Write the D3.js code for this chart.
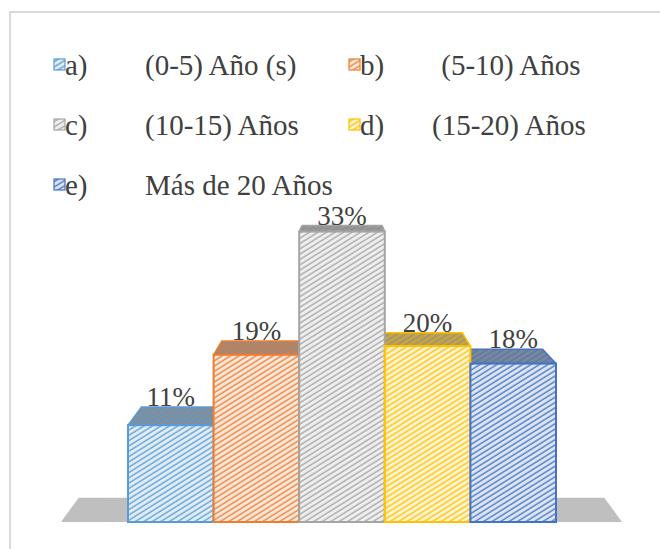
<!DOCTYPE html>
<html>
<head>
<meta charset="utf-8">
<script src="https://cdn.jsdelivr.net/npm/d3@7"></script>
</head>
<body style="margin:0">
<script>
/**
 * DATA
 * */
const letters = ["a)", "b)", "c)", "d)", "e)"];
const categories = ["(0-5) Año (s)", " (5-10) Años", "(10-15) Años", "(15-20) Años", "Más de 20 Años"];
const values = [11, 19, 33, 20, 18];
const colors = ["#5b9bd5", "#ed7d31", "#a5a5a5", "#ffc000", "#4472c4"];

/**
 * CONSTANTS
 * */
const width = 660,
  height = 549;
const floorY = 522;
const vp = [342, 136];   // vanishing point for the 3D look
const depth = 0.063;     // how far back the boxes go
const serif = "'Liberation Serif', 'Times New Roman', Tinos, FreeSerif, serif";

const svg = d3.select("body")
  .append("svg")
  .attr("width", width)
  .attr("height", height)
  .style("font-family", serif);

// chart frame
svg.append("rect")
  .attr("x", 10).attr("y", 12)
  .attr("width", 700).attr("height", 600)
  .attr("fill", "none")
  .attr("stroke", "#d9d9d9")
  .attr("stroke-width", 2);

// hatch patterns
const defs = svg.append("defs");
colors.forEach((c, i) => {
  const front = defs.append("pattern")
    .attr("id", "front" + i)
    .attr("patternUnits", "userSpaceOnUse")
    .attr("width", 4.5).attr("height", 4.5)
    .attr("patternTransform", "rotate(58)");
  front.append("rect").attr("width", 4.5).attr("height", 4.5)
    .attr("fill", d3.interpolateRgb(c, "#ffffff")(0.82));
  front.append("line").attr("x1", 1).attr("x2", 1).attr("y1", 0).attr("y2", 4.5)
    .attr("stroke", c).attr("stroke-width", 1.3);

  const top = defs.append("pattern")
    .attr("id", "top" + i)
    .attr("patternUnits", "userSpaceOnUse")
    .attr("width", 4.5).attr("height", 4.5)
    .attr("patternTransform", "rotate(58)");
  top.append("rect").attr("width", 4.5).attr("height", 4.5)
    .attr("fill", d3.interpolateRgb(c, "#8c8c8c")(0.75));
  top.append("line").attr("x1", 1).attr("x2", 1).attr("y1", 0).attr("y2", 4.5)
    .attr("stroke", d3.interpolateRgb(c, "#7f7f7f")(0.3)).attr("stroke-width", 1.3);
});

/**
 * SCALES
 * */
const x = d3.scaleBand()
  .domain(categories)
  .range([128, 556])
  .padding(0);

const y = d3.scaleLinear()
  .domain([0, 35])
  .range([floorY, floorY - 308]);

const back = p => [p[0] + depth * (vp[0] - p[0]), p[1] + depth * (vp[1] - p[1])];
const poly = pts => pts.map(p => p.join(",")).join(" ");

// floor
const floorL = 61, floorR = 622;
svg.append("polygon")
  .attr("points", poly([[floorL, floorY], [floorR, floorY], back([floorR, floorY]), back([floorL, floorY])]))
  .attr("fill", "#bfbfbf");

const data = categories.map((c, i) => ({ cat: c, value: values[i], i }));

// top faces first, then fronts on top
const tops = svg.append("g");
const fronts = svg.append("g");

data.forEach(d => {
  const x0 = x(d.cat), x1 = x0 + x.bandwidth(), yt = y(d.value);
  const fl = [x0, yt], fr = [x1, yt];
  tops.append("polygon")
    .attr("points", poly([fl, fr, back(fr), back(fl)]))
    .attr("fill", `url(#top${d.i})`)
    .attr("stroke", colors[d.i])
    .attr("stroke-width", 1.5)
    .attr("stroke-linejoin", "round");
});

fronts.selectAll("rect")
  .data(data)
  .join("rect")
  .attr("x", d => x(d.cat))
  .attr("y", d => y(d.value))
  .attr("width", x.bandwidth())
  .attr("height", d => floorY - y(d.value))
  .attr("fill", d => `url(#front${d.i})`)
  .attr("stroke", d => colors[d.i])
  .attr("stroke-width", 2);

// data labels
svg.append("g")
  .selectAll("text")
  .data(data)
  .join("text")
  .attr("x", d => x(d.cat) + x.bandwidth() / 2)
  .attr("y", d => back([x(d.cat), y(d.value)])[1] - 1)
  .attr("text-anchor", "middle")
  .attr("font-size", 27)
  .style("font-family", serif)
  .attr("fill", "#404040")
  .text(d => d.value + "%");

/**
 * LEGEND
 * */
const legendPos = [[54, 66], [349, 66], [54, 126], [349, 126], [54, 186]];
const descOffset = [91, 85, 91, 83, 91];
const legend = svg.append("g")
  .selectAll("g")
  .data(data)
  .join("g")
  .attr("transform", d => `translate(${legendPos[d.i][0]},${legendPos[d.i][1]})`);

legend.append("rect")
  .attr("x", 0).attr("y", -7)
  .attr("width", 11).attr("height", 11)
  .attr("fill", d => `url(#front${d.i})`)
  .attr("stroke", d => colors[d.i])
  .attr("stroke-width", 1.2);

legend.append("text")
  .attr("x", 11)
  .attr("y", 9)
  .attr("font-size", 29)
  .style("font-family", serif)
  .attr("fill", "#404040")
  .text(d => letters[d.i]);

legend.append("text")
  .attr("x", d => descOffset[d.i])
  .attr("y", 9)
  .attr("font-size", 29)
  .style("font-family", serif)
  .attr("fill", "#404040")
  .style("white-space", "pre")
  .text(d => d.cat);
</script>
</body>
</html>
